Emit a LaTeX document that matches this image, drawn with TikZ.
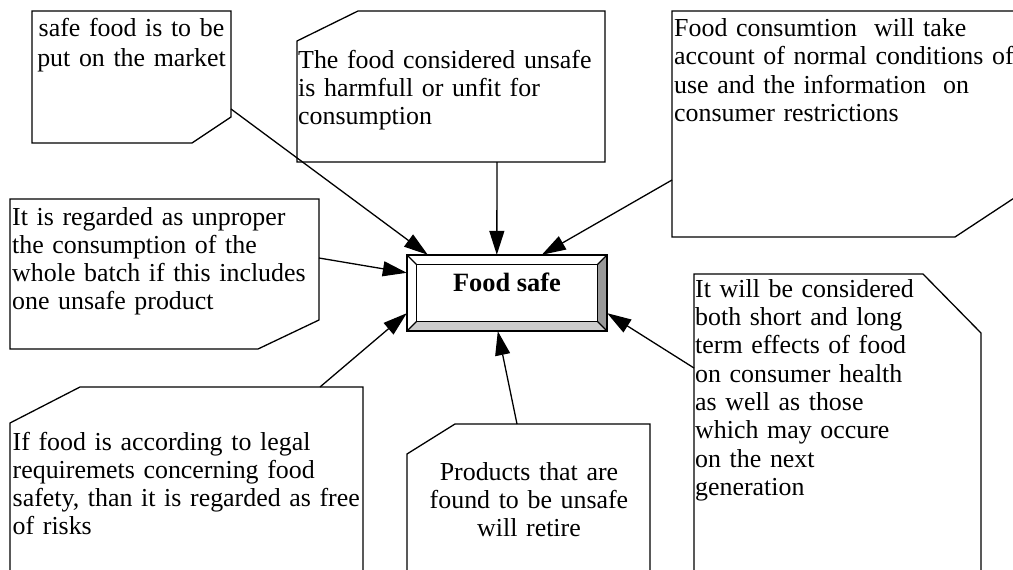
\documentclass[tikz,border=0pt]{standalone}
\usepackage{fontspec}
\setmainfont{Liberation Serif}
\usetikzlibrary{arrows.meta}

\begin{document}
\begin{tikzpicture}[x=1pt,y=-1pt,
    box/.style={line width=1.3pt},
    txt/.style={inner sep=0pt,text width=360pt,align=left,anchor=base west,
        font=\fontsize{25.9}{28.3}\selectfont},
    ctxt/.style={txt,text width=240pt,align=center,anchor=base},
    link/.style={line width=1.3pt,-{Triangle[length=24pt,width=15pt]}},
    fsbox/.style={minimum width=200pt,minimum height=76pt,inner sep=0pt,
        font=\fontsize{26.4}{28.3}\selectfont\bfseries,text height=18pt,text depth=22pt}]

    \useasboundingbox (0,0) rectangle (1013,570);
    \clip (0,0) rectangle (1013,570);

    % Boxes (cut corners)
    \draw[box] (32,11) -- (231,11) -- (231,117) -- (192,143) -- (32,143) -- cycle;
    \draw[box] (358,11) -- (605,11) -- (605,162) -- (297,162) -- (297,41) -- cycle;
    \draw[box] (672,11) -- (1040,11) -- (1040,181) -- (955,237) -- (672,237) -- cycle;
    \draw[box] (10,199) -- (319,199) -- (319,320) -- (258,349) -- (10,349) -- cycle;
    \draw[box] (80,387) -- (363,387) -- (363,600) -- (10,600) -- (10,423) -- cycle;
    \draw[box] (455,424) -- (650,424) -- (650,600) -- (407,600) -- (407,454) -- cycle;
    \draw[box] (694,274) -- (923,274) -- (981,333) -- (981,600) -- (694,600) -- cycle;

    % Texts
    \node[ctxt,font=\fontsize{25.9}{30.7}\selectfont] (market) at (131.5,36) {safe food is to be\\put on the market};
    \node[txt] (unsafe) at (298,68.3) {The food considered unsafe\\is harmfull or unfit for\\consumption};
    \node[txt] (use) at (674,36.7) {Food consumtion~ will take\\account of normal conditions of\\use and the information~ on\\consumer restrictions};
    \node[txt] (batch) at (12,225) {It is regarded as unproper\\the consumption of the\\whole batch if this includes\\one unsafe product};
    \node[txt] (legal) at (12.5,450) {If food is according to legal\\requiremets concerning food\\safety, than it is regarded as free\\of risks};
    \node[ctxt] (retire) at (529,480) {Products that are\\found to be unsafe\\will retire};
    \node[txt] (effects) at (695,297.3) {It will be considered\\both short and long\\term effects of food\\on consumer health\\as well as those\\which may occure\\on the next\\generation};

    % Central button
    \node[fsbox] (fs) at (507,293) {Food safe};
    \coordinate (fs-nw) at ([xshift=10pt,yshift=-10pt]fs.north west);
    \coordinate (fs-ne) at ([xshift=-10pt,yshift=-10pt]fs.north east);
    \coordinate (fs-se) at ([xshift=-10pt,yshift=10pt]fs.south east);
    \coordinate (fs-sw) at ([xshift=10pt,yshift=10pt]fs.south west);
    \fill[black!40] (fs.north east) -- (fs.south east) -- (fs-se) -- (fs-ne) -- cycle;
    \fill[black!20] (fs.south west) -- (fs.south east) -- (fs-se) -- (fs-sw) -- cycle;
    \draw[line width=1.3pt] (fs-nw) rectangle (fs-se);
    \foreach \a/\b in {north west/nw,north east/ne,south east/se,south west/sw} {
        \draw[line width=1.3pt] (fs.\a) -- (fs-\b);
    }
    \draw[line width=1.8pt] (fs.north west) rectangle (fs.south east);

    % Connectors
    \coordinate (c-market) at (231,109);
    \coordinate (c-unsafe) at (497,162);
    \coordinate (c-use) at (672,180);
    \coordinate (c-batch) at (319,258);
    \coordinate (c-legal) at (320,387);
    \coordinate (c-retire) at (517,424);
    \coordinate (c-effects) at (694,368);
    \draw[link] (c-market) -- ([xshift=21pt]fs.north west);
    \draw[link] (c-unsafe) -- ([xshift=90pt]fs.north west);
    \draw[link] (c-use) -- ([xshift=135pt]fs.north west);
    \draw[link] (c-batch) -- ([yshift=-18pt]fs.north west);
    \draw[link] (c-legal) -- ([yshift=18pt]fs.south west);
    \draw[link] (c-retire) -- ([xshift=91pt]fs.south west);
    \draw[link] (c-effects) -- ([yshift=18pt]fs.south east);

\end{tikzpicture}
\end{document}
